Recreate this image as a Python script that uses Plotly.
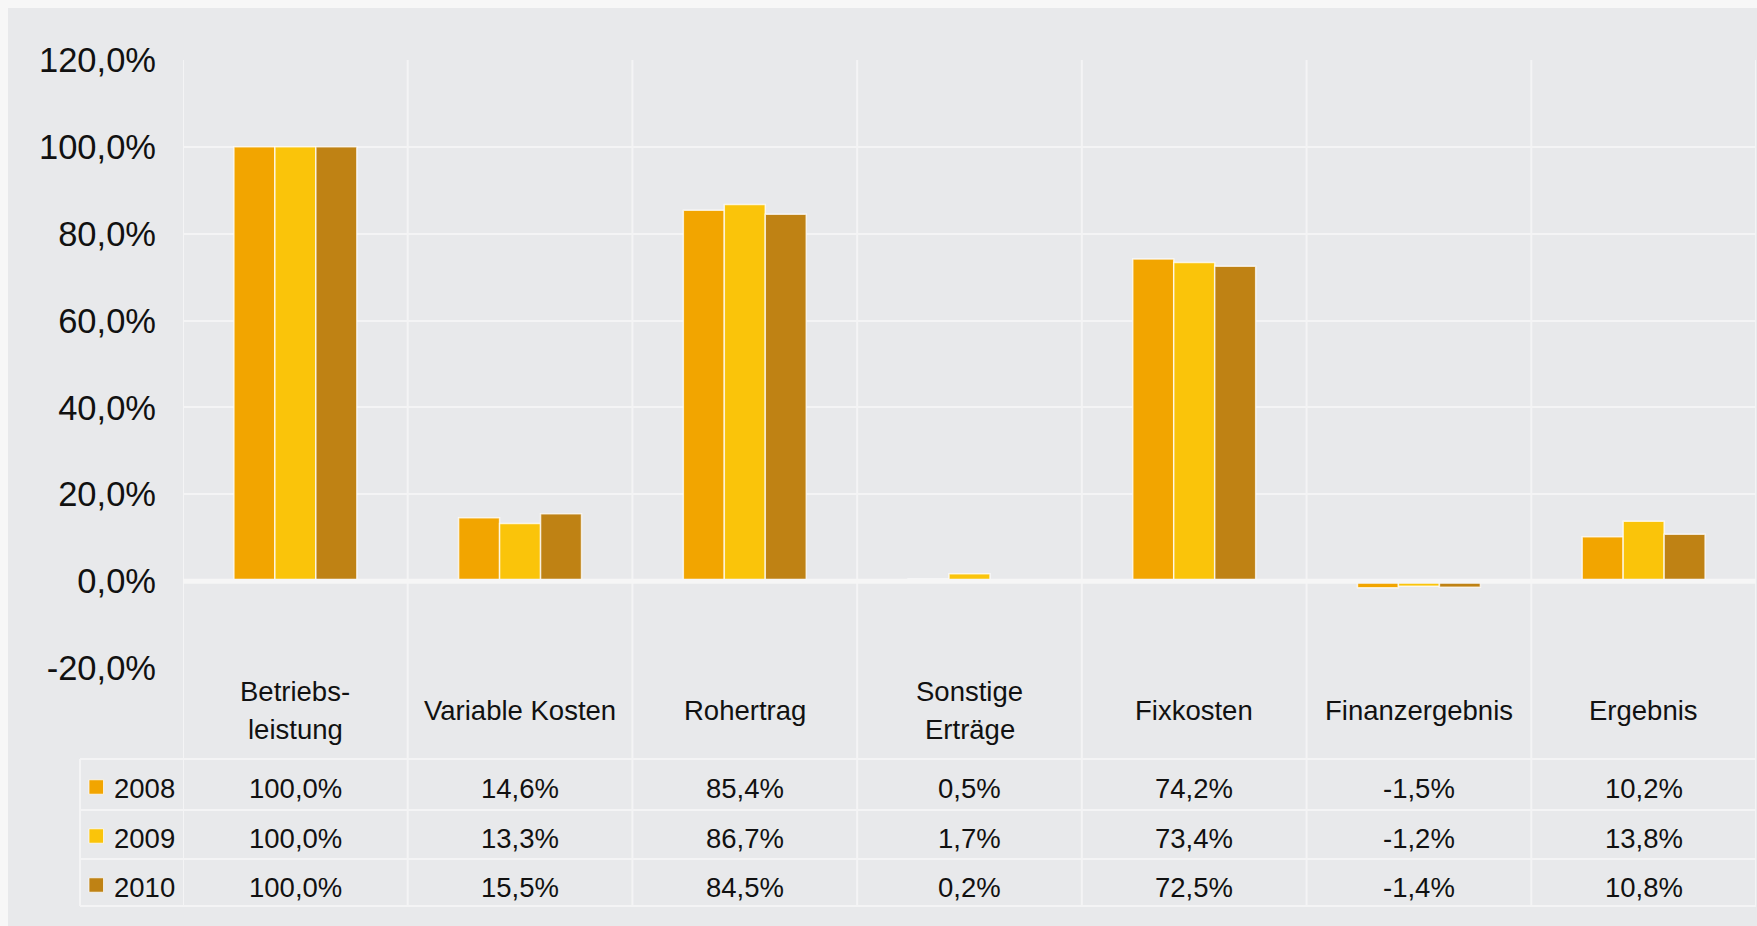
import plotly.graph_objects as go

categories = ["Betriebs-<br>leistung", "Variable Kosten", "Rohertrag", "Sonstige<br>Erträge",
              "Fixkosten", "Finanzergebnis", "Ergebnis"]
years = ["2008", "2009", "2010"]
values_2008 = [100.0, 14.6, 85.4, 0.5, 74.2, -1.5, 10.2]
values_2009 = [100.0, 13.3, 86.7, 1.7, 73.4, -1.2, 13.8]
values_2010 = [100.0, 15.5, 84.5, 0.2, 72.5, -1.4, 10.8]
series = [values_2008, values_2009, values_2010]
colors = ["#F2A500", "#FAC40A", "#BF8214"]
tick_values = [-20, 0, 20, 40, 60, 80, 100, 120]


def fmt(v):
    return f"{v:.1f}".replace(".", ",") + "%"


W, H = 1757, 926
# pixel coordinates of the plot area
L, R, T, B = 183, 1756, 60, 668
PH = B - T
PW = R - L


def py(p):
    return (B - p) / PH


def px(p):
    return (p - L) / PW


GRID = "#f4f4f5"
BG = "#e8e9eb"
FONT = "Liberation Sans, Arial, sans-serif"
TXT = 27.5

fig = go.Figure()
xs = list(range(len(categories)))
for yr, vals, c in zip(years, series, colors):
    fig.add_trace(go.Bar(
        x=xs, y=vals, name=yr,
        marker=dict(color=c, line=dict(color="rgba(255,255,255,0.75)", width=1.5)),
        showlegend=False,
    ))

shapes = []
# grey chart area (light frame on top/left)
shapes.append(dict(type="rect", xref="paper", yref="paper", x0=px(8), x1=px(W + 5),
                   y0=py(8), y1=py(H + 5), fillcolor=BG, line=dict(width=0), layer="below"))
# vertical category boundaries (plot + table)
for i in range(len(categories) + 1):
    shapes.append(dict(type="line", xref="x", yref="paper", x0=i - 0.5, x1=i - 0.5,
                       y0=py(906), y1=1, line=dict(color=GRID, width=2), layer="below"))
# table horizontal lines
for p in [759, 810, 859, 906]:
    shapes.append(dict(type="line", xref="paper", yref="paper", x0=px(80), x1=1,
                       y0=py(p), y1=py(p), line=dict(color=GRID, width=2), layer="below"))
# legend column left edge
shapes.append(dict(type="line", xref="paper", yref="paper", x0=px(80), x1=px(80),
                   y0=py(906), y1=py(759), line=dict(color=GRID, width=2), layer="below"))
# zero line above bars
shapes.append(dict(type="line", xref="paper", yref="y", x0=0, x1=1, y0=0, y1=0,
                   line=dict(color="#f6f6f6", width=5), layer="above"))

row_centers = [789, 838, 887]
header_center = 710
line_gap = 38
annotations = []
for i, cat in enumerate(categories):
    lines = cat.split("<br>")
    n = len(lines)
    for k, line in enumerate(lines):
        yc = header_center + (k - (n - 1) / 2) * line_gap
        annotations.append(dict(x=i, y=py(yc), xref="x", yref="paper", text=line,
                                showarrow=False, font=dict(size=TXT, color="#111", family=FONT),
                                xanchor="center", yanchor="middle"))
    for r, vals in enumerate(series):
        annotations.append(dict(x=i, y=py(row_centers[r]), xref="x", yref="paper",
                                text=fmt(vals[i]), showarrow=False,
                                font=dict(size=TXT, color="#111", family=FONT),
                                xanchor="center", yanchor="middle"))
for r, (yr, c) in enumerate(zip(years, colors)):
    yc = row_centers[r] - 2
    shapes.append(dict(type="rect", xref="paper", yref="paper", x0=px(89), x1=px(103.5),
                       y0=py(yc + 7.2), y1=py(yc - 7.2), fillcolor=c,
                       line=dict(color="rgba(255,255,255,0.7)", width=1), layer="above"))
    annotations.append(dict(x=px(112), y=py(row_centers[r]), xref="paper", yref="paper",
                            text=yr, showarrow=False, xanchor="left", yanchor="middle",
                            font=dict(size=TXT, color="#111", family=FONT)))

fig.update_layout(
    width=W, height=H,
    margin=dict(l=L, r=W - R, t=T, b=H - B, pad=0),
    paper_bgcolor="#f7f7f7", plot_bgcolor=BG,
    barmode="group", bargap=0.453, bargroupgap=0,
    font=dict(family=FONT, color="#111"),
    shapes=shapes, annotations=annotations,
    xaxis=dict(range=[-0.5, len(categories) - 0.5], showticklabels=False, showgrid=False,
               zeroline=False, showline=False, ticks=""),
    yaxis=dict(range=[-20, 120], tickvals=tick_values, ticktext=[fmt(v) for v in tick_values],
               tickfont=dict(size=34.5, color="#111", family=FONT), showgrid=True,
               gridcolor=GRID, gridwidth=2, zeroline=False, showline=False, ticks="",
               ticklabelstandoff=26),
    hovermode=False,
)

fig.write_html(
    "out.html",
    config={"displayModeBar": False},
    post_script="document.body.style.margin='0';document.body.style.overflow='hidden';",
)
